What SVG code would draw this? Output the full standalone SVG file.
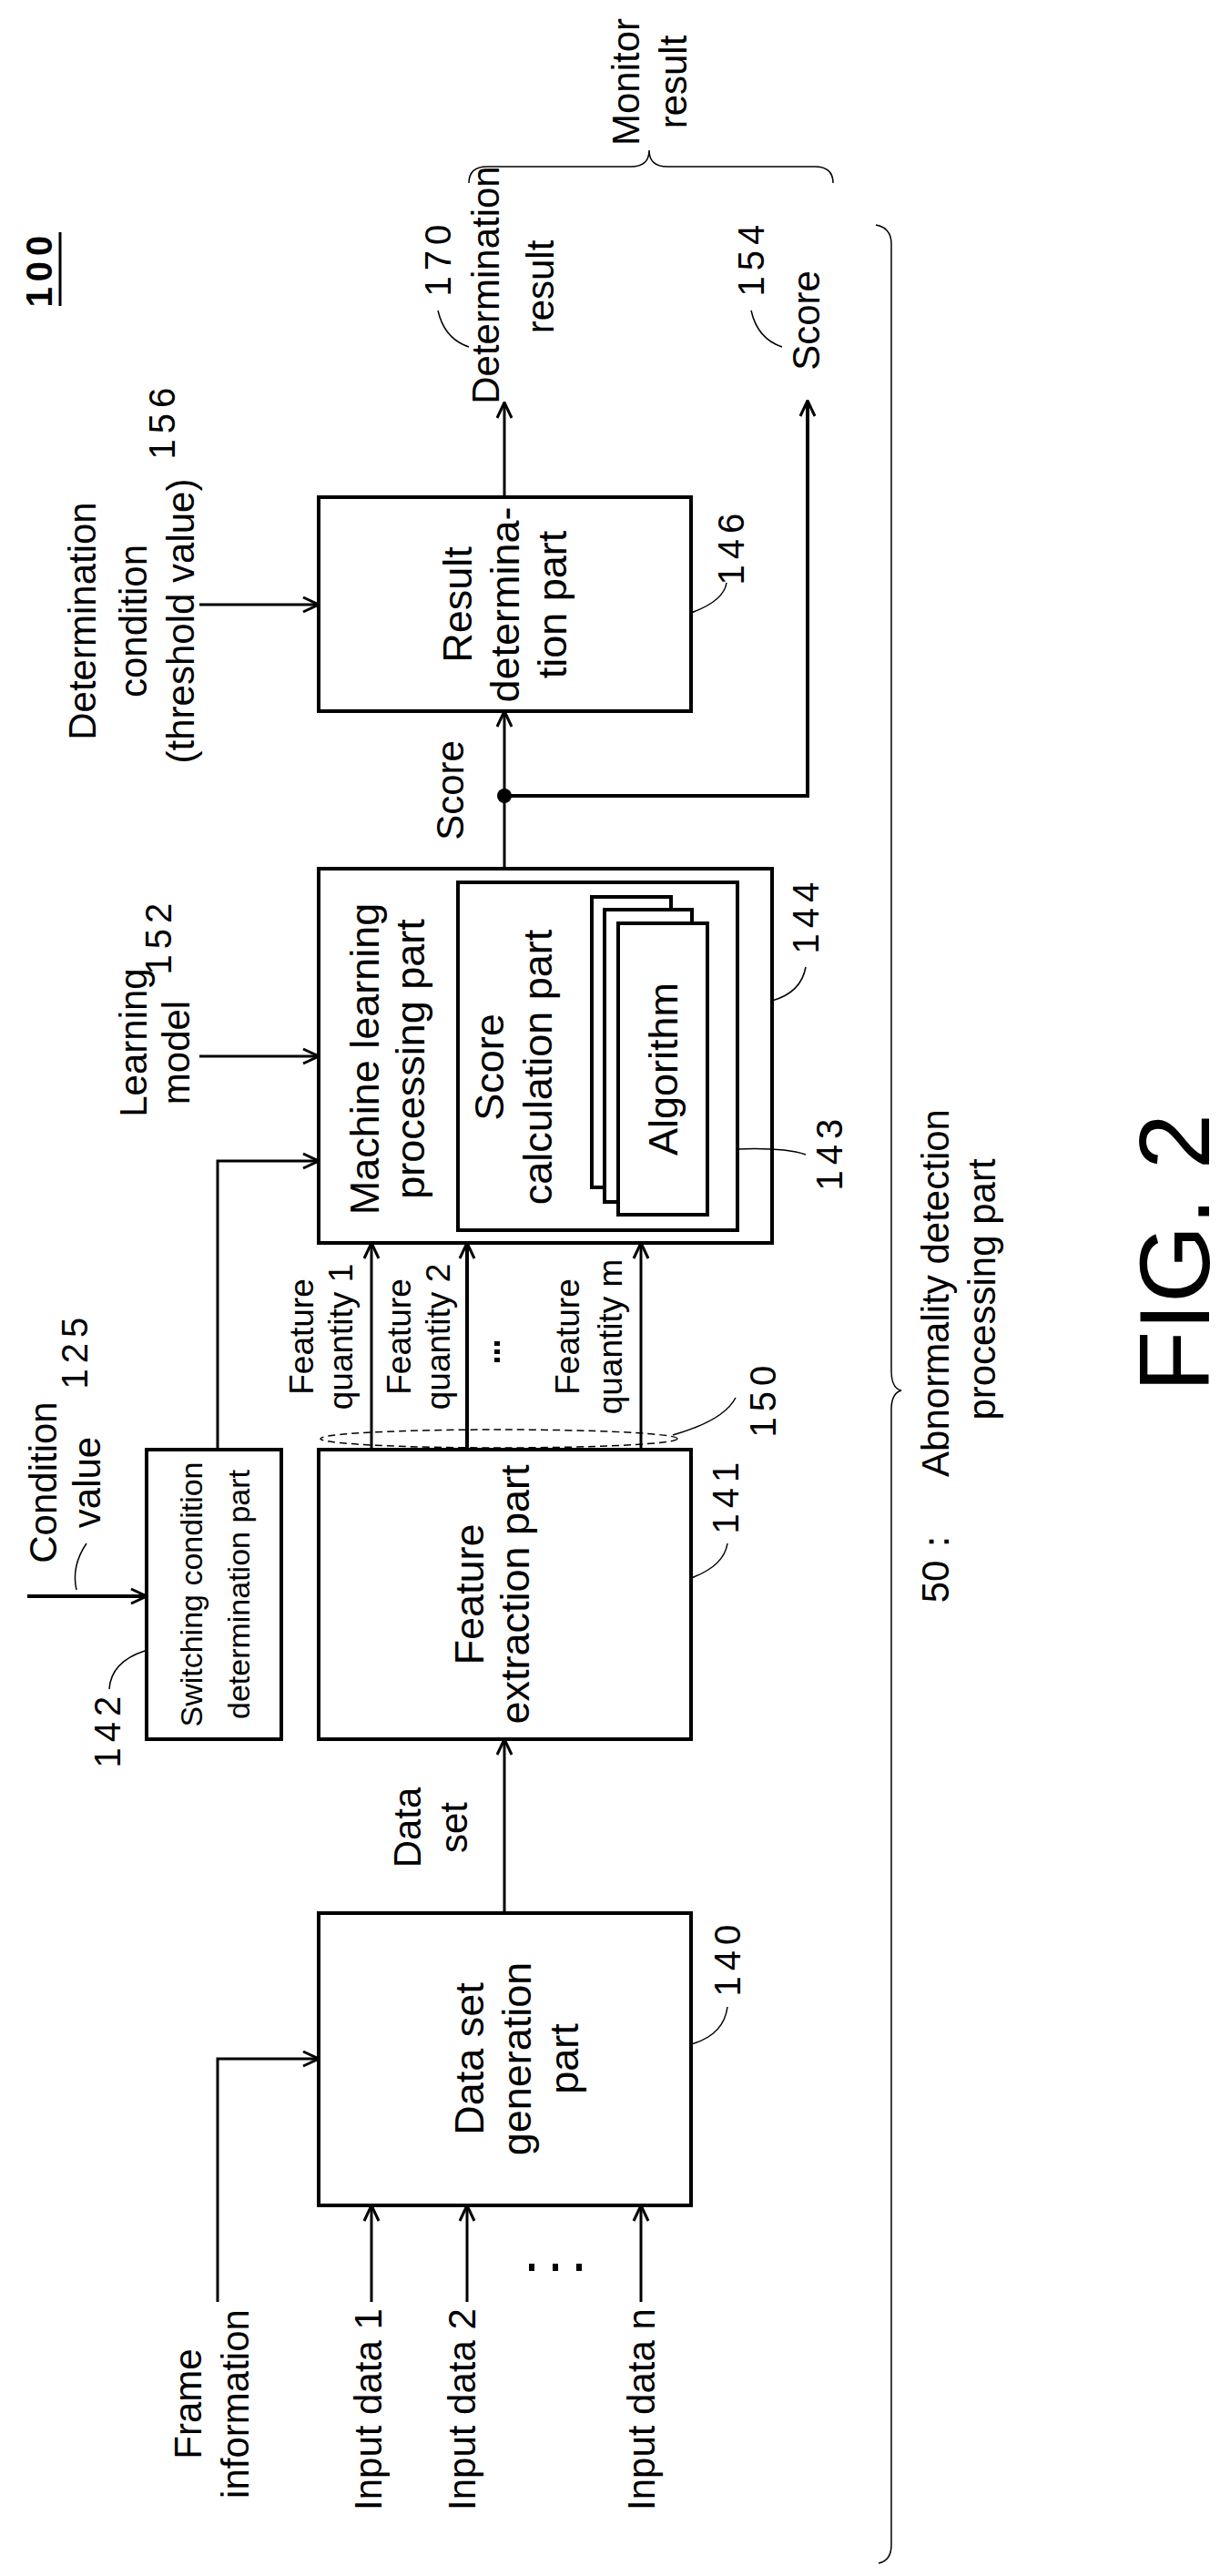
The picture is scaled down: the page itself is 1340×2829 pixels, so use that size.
<svg xmlns="http://www.w3.org/2000/svg" width="1340" height="2829" viewBox="0 0 1340 2829">
<style>
text{font-family:"Liberation Sans",Arial,sans-serif;fill:#000;text-anchor:middle;dominant-baseline:central}
.box{fill:#fff;stroke:#000;stroke-width:4}
.ln{fill:none;stroke:#000;stroke-width:3}
.th{fill:none;stroke:#000;stroke-width:1.5}
.b{font-size:45px}
.m{font-size:42px}
.s{font-size:37px}
.w{font-size:34px}
.n{font-size:40px;letter-spacing:6px}
</style>
<defs>
<marker id="ah" viewBox="0 0 20 20" refX="19" refY="10" markerWidth="20" markerHeight="20" markerUnits="userSpaceOnUse" orient="auto">
<path d="M2,2 L19,10 L2,18" fill="none" stroke="#000" stroke-width="3"/>
</marker>
</defs>
<rect width="1340" height="2829" fill="#fff"/>

<g id="connectors">
<path class="ln" d="M219,664 H350" marker-end="url(#ah)"/>
<path class="ln" d="M554,546 V442" marker-end="url(#ah)"/>
<path class="ln" d="M554,954 V781" marker-end="url(#ah)"/>
<path class="ln" d="M554,874 H887 V440" marker-end="url(#ah)" style="stroke-width:4"/>
<circle cx="554" cy="874" r="8" fill="#000"/>
<path class="ln" d="M219,1160 H350" marker-end="url(#ah)"/>
<path class="ln" d="M239,1592 V1275 H350" marker-end="url(#ah)"/>
<path class="ln" d="M30,1753 H161" marker-end="url(#ah)" style="stroke-width:4"/>
<path class="ln" d="M408,1592 V1365" marker-end="url(#ah)"/>
<path class="ln" d="M513,1592 V1365" marker-end="url(#ah)" style="stroke-width:4"/>
<path class="ln" d="M704,1592 V1365" marker-end="url(#ah)"/>
<ellipse cx="548" cy="1580" rx="196" ry="10" fill="none" stroke="#000" stroke-width="1.5" stroke-dasharray="8,5"/>
<path class="ln" d="M554,2101 V1910" marker-end="url(#ah)"/>
<path class="ln" d="M239,2528 V2261 H350" marker-end="url(#ah)"/>
<path class="ln" d="M408,2528 V2422" marker-end="url(#ah)"/>
<path class="ln" d="M513,2528 V2422" marker-end="url(#ah)"/>
<path class="ln" d="M704,2528 V2422" marker-end="url(#ah)"/>
</g>

<g id="n146">
<rect class="box" x="350" y="546" width="409" height="235"/>
<text class="b" transform="translate(502,664) rotate(-90)">Result</text>
<text class="b" transform="translate(554,664) rotate(-90)">determina-</text>
<text class="b" transform="translate(606,664) rotate(-90)">tion part</text>
<path class="th" d="M759,673 Q795,660 798,640"/>
<text class="n" transform="translate(803,600) rotate(-90)">146</text>
</g>

<g id="n144">
<rect class="box" x="350" y="954" width="498" height="411"/>
<text class="b" transform="translate(400,1163) rotate(-90)">Machine learning</text>
<text class="b" transform="translate(450,1163) rotate(-90)">processing part</text>
<path class="th" d="M848,1099 Q880,1090 885,1062"/>
<text class="n" transform="translate(885,1005) rotate(-90)">144</text>
</g>

<g id="n143">
<rect class="box" x="503" y="969" width="307" height="382"/>
<text class="b" transform="translate(537,1172) rotate(-90)">Score</text>
<text class="b" transform="translate(590,1172) rotate(-90)">calculation part</text>
<rect class="box" x="650" y="985" width="87" height="319"/>
<rect class="box" x="664" y="999" width="96" height="321"/>
<rect class="box" x="679" y="1014" width="98" height="320"/>
<text class="b" transform="translate(728,1174) rotate(-90)">Algorithm</text>
<path class="th" d="M810,1262 Q860,1260 885,1268"/>
<text class="n" transform="translate(911,1265) rotate(-90)">143</text>
</g>

<g id="n142">
<rect class="box" x="161" y="1592" width="148" height="318"/>
<text class="w" transform="translate(210,1751) rotate(-90)">Switching condition</text>
<text class="w" transform="translate(262,1751) rotate(-90)">determination part</text>
<path class="th" d="M159,1813 Q122,1825 120,1855"/>
<text class="n" transform="translate(118,1899) rotate(-90)">142</text>
</g>

<g id="n141">
<rect class="box" x="350" y="1592" width="409" height="318"/>
<text class="b" transform="translate(515,1751) rotate(-90)">Feature</text>
<text class="b" transform="translate(565,1751) rotate(-90)">extraction part</text>
<path class="th" d="M759,1733 Q795,1720 799,1695"/>
<text class="n" transform="translate(797,1642) rotate(-90)">141</text>
</g>

<g id="n140">
<rect class="box" x="350" y="2101" width="409" height="321"/>
<text class="b" transform="translate(515,2261) rotate(-90)">Data set</text>
<text class="b" transform="translate(567,2261) rotate(-90)">generation</text>
<text class="b" transform="translate(619,2261) rotate(-90)">part</text>
<path class="th" d="M759,2245 Q795,2235 799,2204"/>
<text class="n" transform="translate(799,2150) rotate(-90)">140</text>
</g>

<g id="labels">
<text class="m" transform="translate(90,682) rotate(-90)">Determination</text>
<text class="m" transform="translate(146,682) rotate(-90)">condition</text>
<text class="m" transform="translate(198,682) rotate(-90)">(threshold value)</text>
<text class="n" transform="translate(178,462) rotate(-90)">156</text>
<text class="m" transform="translate(494,868) rotate(-90)">Score</text>
<text class="m" transform="translate(533,313) rotate(-90)">Determination</text>
<text class="m" transform="translate(593,315) rotate(-90)">result</text>
<text class="n" transform="translate(481,283) rotate(-90)">170</text>
<path class="th" d="M481,341 Q488,372 515,381"/>
<text class="n" transform="translate(825,283) rotate(-90)">154</text>
<path class="th" d="M825,341 Q832,372 859,381"/>
<text class="m" transform="translate(885,352) rotate(-90)">Score</text>
<path class="th" d="M515,201 Q515,183 535,183 H693 Q713,183 713,165 Q713,183 733,183 H895 Q915,183 915,201"/>
<text class="m" transform="translate(687,90) rotate(-90)">Monitor</text>
<text class="m" transform="translate(739,90) rotate(-90)">result</text>
<text class="n" style="font-weight:bold" transform="translate(43,295) rotate(-90)">100</text>
<path d="M66,255 V336" stroke="#000" stroke-width="3"/>
<text class="m" transform="translate(146,1145) rotate(-90)">Learning</text>
<text class="m" transform="translate(193,1156) rotate(-90)">model</text>
<text class="n" transform="translate(174,1028) rotate(-90)">152</text>
<text class="m" transform="translate(47,1628) rotate(-90)">Condition</text>
<text class="m" transform="translate(95,1628) rotate(-90)">value</text>
<path class="th" d="M95,1695 Q78,1720 84,1746"/>
<text class="n" transform="translate(82,1483) rotate(-90)">125</text>
<text class="s" transform="translate(331,1468) rotate(-90)">Feature</text>
<text class="s" transform="translate(374,1468) rotate(-90)">quantity 1</text>
<text class="s" transform="translate(438,1468) rotate(-90)">Feature</text>
<text class="s" transform="translate(481,1468) rotate(-90)">quantity 2</text>
<text class="s" transform="translate(623,1468) rotate(-90)">Feature</text>
<text class="s" transform="translate(670,1468) rotate(-90)">quantity m</text>
<rect x="543" y="1473" width="6" height="5"/><rect x="543" y="1482" width="6" height="5"/><rect x="543" y="1491" width="6" height="5"/>
<path class="th" d="M739,1576 Q795,1560 808,1535"/>
<text class="n" transform="translate(838,1536) rotate(-90)">150</text>
<text class="m" transform="translate(447,2007) rotate(-90)">Data</text>
<text class="m" transform="translate(498,2007) rotate(-90)">set</text>
<text class="m" transform="translate(206,2640) rotate(-90)">Frame</text>
<text class="m" transform="translate(258,2640) rotate(-90)">information</text>
<text class="m" style="text-anchor:start" transform="translate(404,2757) rotate(-90)">Input data 1</text>
<text class="m" style="text-anchor:start" transform="translate(507,2757) rotate(-90)">Input data 2</text>
<text class="m" style="text-anchor:start" transform="translate(704,2757) rotate(-90)">Input data n</text>
<rect x="581" y="2486" width="6" height="8"/><rect x="607" y="2486" width="6" height="8"/><rect x="633" y="2486" width="6" height="8"/>
<path class="th" d="M962,247 Q979,250 979,268 V1505 Q979,1525 990,1527 Q979,1530 979,1548 V2795 Q979,2812 965,2815"/>
<text class="m" transform="translate(1027,1716) rotate(-90)">50：</text>
<text class="m" transform="translate(1027,1420) rotate(-90)">Abnormality detection</text>
<text class="m" transform="translate(1078,1416) rotate(-90)">processing part</text>
<text style="font-size:110px" transform="translate(1289,1376) rotate(-90)">FIG. 2</text>
</g>
</svg>
